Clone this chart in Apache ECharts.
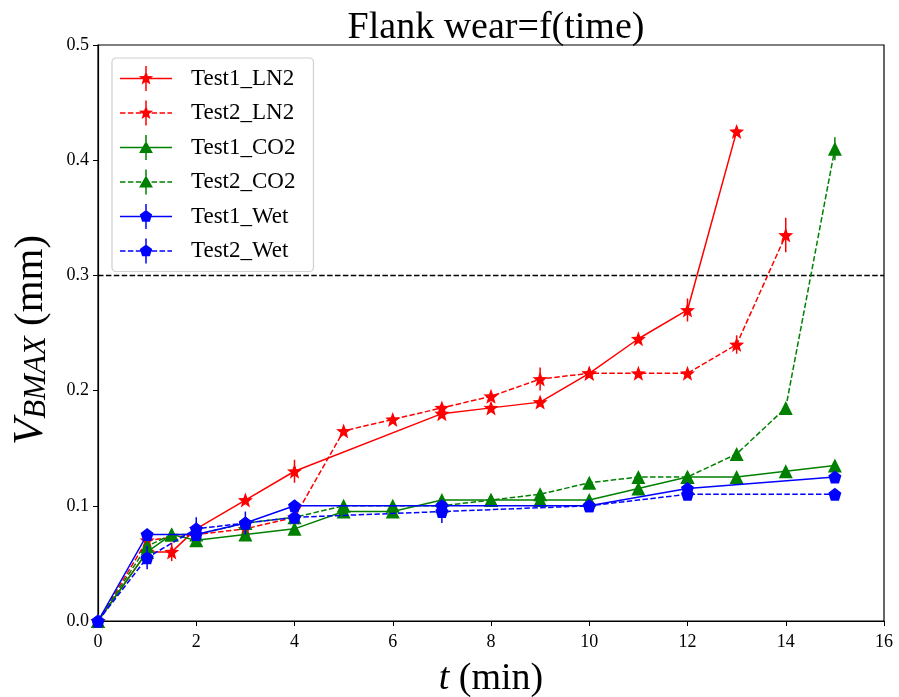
<!DOCTYPE html>
<html>
<head>
<meta charset="utf-8">
<script src="https://cdn.jsdelivr.net/npm/echarts@6/dist/echarts.min.js"></script>
<style>html,body{margin:0;padding:0;background:#fff}#c{width:899px;height:697px}</style>
</head>
<body>
<div id="c"></div>
<script>
// ---- data ----
const seriesNames = ['Test1_LN2','Test2_LN2','Test1_CO2','Test2_CO2','Test1_Wet','Test2_Wet'];
const xTicks = [0,2,4,6,8,10,12,14,16];
const yTicks = [0.0,0.1,0.2,0.3,0.4,0.5];
const limitLine = 0.3;

const t1LN2 = [0,1,1.5,2,3,4,7,8,9,10,11,12,13];
const v1LN2 = [0,0.06,0.06,0.08,0.105,0.13,0.18,0.185,0.19,0.215,0.245,0.27,0.425];
const e1LN2 = [0,0,0.008,0,0,0.01,0,0,0,0,0,0.01,0];

const t2LN2 = [0,1,2,3,4,5,6,7,8,9,10,11,12,13,14];
const v2LN2 = [0,0.07,0.075,0.08,0.09,0.165,0.175,0.185,0.195,0.21,0.215,0.215,0.215,0.24,0.335];
const e2LN2 = [0,0,0,0,0,0,0,0,0,0.01,0,0,0,0.008,0.015];

const t1CO2 = [0,1,1.5,2,3,4,5,6,7,8,9,10,11,12,13,14,15];
const v1CO2 = [0,0.06,0.075,0.07,0.075,0.08,0.095,0.095,0.105,0.105,0.105,0.105,0.115,0.125,0.125,0.13,0.135];
const e1CO2 = [0,0,0,0,0,0,0,0,0,0,0,0,0,0,0,0,0];

const t2CO2 = [0,1,1.5,2,3,4,5,6,7,8,9,10,11,12,13,14,15];
const v2CO2 = [0,0.065,0.075,0.075,0.085,0.09,0.1,0.1,0.1,0.105,0.11,0.12,0.125,0.125,0.145,0.185,0.41];
const e2CO2 = [0,0,0,0,0,0,0,0,0,0,0,0,0,0,0,0,0.01];

const t1Wet = [0,1,2,3,4,7,10,12,15];
const v1Wet = [0,0.075,0.075,0.085,0.1,0.1,0.1,0.115,0.125];
const e1Wet = [0,0,0,0,0,0,0,0,0];

const t2Wet = [0,1,2,3,4,7,10,12,15];
const v2Wet = [0,0.055,0.08,0.085,0.09,0.095,0.1,0.11,0.11];
const e2Wet = [0,0.01,0.01,0.01,0,0.01,0,0,0];

// ---- styles ----
function polyPts(n, inner, cx, cy, R) {
  const pts = [];
  const k = inner ? 2*n : n;
  for (let i = 0; i < k; i++) {
    const r = inner ? (i % 2 === 0 ? R : R*inner) : R;
    const a = -Math.PI/2 + i * 2*Math.PI/k;
    pts.push((cx + r*Math.cos(a)).toFixed(3) + ' ' + (cy + r*Math.sin(a)).toFixed(3));
  }
  return 'M' + pts.join(' L') + ' Z';
}
function rect(x0, y0, x1, y1) {
  return 'M' + x0 + ' ' + y0 + ' L' + x1 + ' ' + y0 + ' L' + x1 + ' ' + y1 + ' L' + x0 + ' ' + y1 + ' Z';
}
const STAR = 'path://' + polyPts(5, 0.42, 0, 0, 1);
const PENT = 'path://' + polyPts(5, 0, 0, 0, 1);
const TRI = 'path://' + polyPts(3, 0, 0, 0, 1);
const FONT = 'Liberation Serif';

// legend icon: line (solid or dashed) + marker + vertical error bar
const LW = 52, LH = 25;
function legendIcon(kind, dashed) {
  const cy = LH / 2, cx = LW / 2;
  let d = '';
  if (dashed) {
    let x = 0;
    while (x < LW) { d += rect(x, cy - 0.75, Math.min(x + 5.5, LW), cy + 0.75) + ' '; x += 7.9; }
  } else {
    d += rect(0, cy - 0.75, LW, cy + 0.75) + ' ';
  }
  d += rect(cx - 0.75, 0, cx + 0.75, LH) + ' ';
  if (kind === 'star') d += polyPts(5, 0.42, cx, cy, 7.5);
  else if (kind === 'tri') d += polyPts(3, 0, cx, cy + 1.5, 8);
  else d += polyPts(5, 0, cx, cy, 6.5);
  return 'path://' + d;
}

const defs = [
  {name: seriesNames[0], t: t1LN2, v: v1LN2, e: e1LN2, color: '#ff0000', dashed: false, sym: STAR, kind: 'star', size: 15},
  {name: seriesNames[1], t: t2LN2, v: v2LN2, e: e2LN2, color: '#ff0000', dashed: true, sym: STAR, kind: 'star', size: 15},
  {name: seriesNames[2], t: t1CO2, v: v1CO2, e: e1CO2, color: '#008000', dashed: false, sym: TRI, kind: 'tri', size: 14},
  {name: seriesNames[3], t: t2CO2, v: v2CO2, e: e2CO2, color: '#008000', dashed: true, sym: TRI, kind: 'tri', size: 14},
  {name: seriesNames[4], t: t1Wet, v: v1Wet, e: e1Wet, color: '#0000ff', dashed: false, sym: PENT, kind: 'pent', size: 13},
  {name: seriesNames[5], t: t2Wet, v: v2Wet, e: e2Wet, color: '#0000ff', dashed: true, sym: PENT, kind: 'pent', size: 13},
];

const series = [];
defs.forEach(function (d, idx) {
  series.push({
    name: d.name, type: 'line',
    data: d.t.map(function (x, i) { return [x, d.v[i]]; }),
    symbol: d.sym, symbolSize: d.size, showAllSymbol: true,
    itemStyle: {color: d.color},
    lineStyle: {color: d.color, width: 1.5, type: d.dashed ? [5.5, 2.4] : 'solid'},
    z: 3 + idx, animation: false,
    markLine: idx === 0 ? {
      silent: true, symbol: ['none','none'], label: {show: false},
      lineStyle: {color: '#000', type: [5.5,2.4], width: 1.3},
      data: [{yAxis: limitLine}]
    } : undefined
  });
  series.push({
    name: d.name + '_err', type: 'custom',
    data: d.t.map(function (x, i) { return [x, d.v[i], d.e[i]]; }).filter(function (p) { return p[2] > 0; }),
    encode: {x: 0, y: 1},
    z: 3 + idx, animation: false, silent: true,
    renderItem: function (params, api) {
      const x = api.value(0), y = api.value(1), e = api.value(2);
      const p1 = api.coord([x, y - e]), p2 = api.coord([x, y + e]);
      return {type: 'line', shape: {x1: p1[0], y1: p1[1], x2: p2[0], y2: p2[1]},
              style: {stroke: d.color, lineWidth: 1.5}};
    }
  });
});

const chart = echarts.init(document.getElementById('c'), null, {renderer: 'canvas'});
chart.setOption({
  backgroundColor: '#fff',
  animation: false,
  textStyle: {fontFamily: FONT, color: '#000'},
  title: {
    text: 'Flank wear=f(time)', left: 491, top: 3, textAlign: 'center',
    textStyle: {fontFamily: FONT, fontSize: 38, lineHeight: 40, fontWeight: 'normal', color: '#000'}
  },
  grid: {left: 98, right: 15, top: 45, bottom: 76, containLabel: false, outerBoundsMode: 'none',
         show: true, borderColor: '#000', borderWidth: 1.2, backgroundColor: 'transparent'},
  legend: {
    data: defs.map(function (d) { return {name: d.name, icon: legendIcon(d.kind, d.dashed)}; }),
    orient: 'vertical', left: 112, top: 58,
    itemWidth: LW, itemHeight: LH, itemGap: 9.5,
    padding: [8, 18, 8, 8],
    backgroundColor: '#fff', borderColor: '#d0d0d0', borderWidth: 1.2, borderRadius: 4,
    textStyle: {fontFamily: FONT, fontSize: 23, color: '#000', lineHeight: 25, padding: [0,0,0,14]}
  },
  xAxis: {
    type: 'value', min: xTicks[0], max: xTicks[xTicks.length-1], interval: 2,
    name: '{i|t} (min)', nameLocation: 'middle', nameGap: 38,
    nameTextStyle: {fontFamily: FONT, fontSize: 38, lineHeight: 40, color: '#000',
      rich: {i: {fontFamily: FONT, fontStyle: 'italic', fontSize: 38, lineHeight: 40}}},
    axisLine: {lineStyle: {color: '#000', width: 1.2}},
    axisTick: {show: true, inside: false, length: 5, lineStyle: {color: '#000'}},
    axisLabel: {fontFamily: FONT, fontSize: 18, color: '#000', margin: 12},
    splitLine: {show: false}
  },
  yAxis: {
    type: 'value', min: yTicks[0], max: yTicks[yTicks.length-1], interval: 0.1,
    name: '{v|V}{s|BMAX}{n| (mm)}', nameLocation: 'middle', nameGap: 46,
    nameTextStyle: {fontFamily: FONT, color: '#000', rich: {
      v: {fontFamily: FONT, fontStyle: 'italic', fontSize: 43, lineHeight: 44, verticalAlign: 'bottom'},
      s: {fontFamily: FONT, fontStyle: 'italic', fontSize: 31, lineHeight: 20, verticalAlign: 'bottom'},
      n: {fontFamily: FONT, fontSize: 41, lineHeight: 44, verticalAlign: 'bottom', padding: [0, 14, 0, 0]}
    }},
    axisLine: {show: true, lineStyle: {color: '#000', width: 1.2}},
    axisTick: {show: true, inside: false, length: 5, lineStyle: {color: '#000'}},
    axisLabel: {fontFamily: FONT, fontSize: 18, color: '#000', margin: 9, formatter: function (v) { return v.toFixed(1); }},
    splitLine: {show: false}
  },
  series: series
});
</script>
</body>
</html>
